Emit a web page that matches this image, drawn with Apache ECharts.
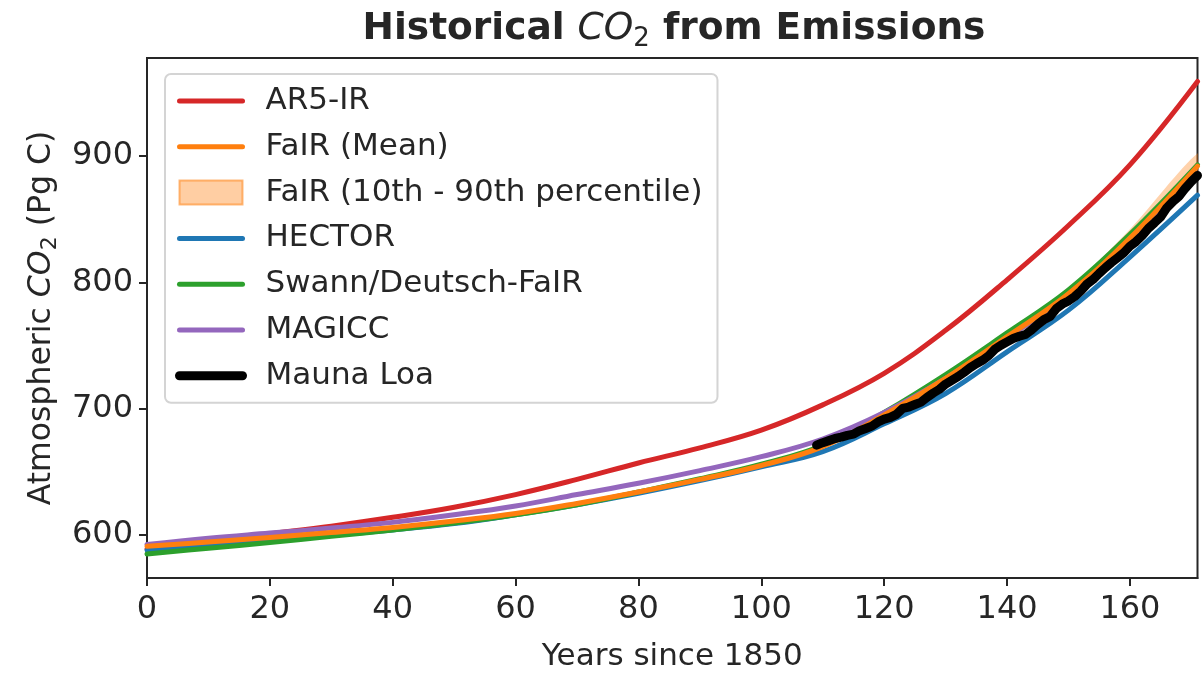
<!DOCTYPE html>
<html>
<head>
<meta charset="utf-8">
<script src="https://cdn.jsdelivr.net/npm/echarts@6/dist/echarts.min.js"></script>
<style>
html,body{margin:0;padding:0;background:#fff;}
#chart{width:1204px;height:673px;}
</style>
</head>
<body>
<div id="chart"></div>
<script>
// ---- data (Years since 1850, atmospheric CO2 in Pg C) ----
const years = [0, 10, 20, 30, 40, 50, 60, 70, 80, 90, 100, 110, 120, 130, 140, 150, 160, 171];
const ar5ir   = [589, 595, 601, 607, 614, 622, 632, 644, 657, 669, 683, 703, 728, 762, 802, 845, 893, 959];
const fairMean= [591, 594.5, 598, 602, 606, 611, 617, 625, 634, 644, 655, 670, 695, 724, 757, 791, 835, 892];
const fairLow = [590, 593.5, 597, 601, 605, 609.5, 615.5, 623.5, 632, 642, 653, 668, 692.5, 721, 753.5, 787, 828, 884];
const fairHigh= [592, 595.5, 599, 603, 607, 612.5, 618.5, 626.5, 636, 646, 657, 672, 697.5, 727, 760.5, 795, 842, 902];
const hector  = [588, 592, 596, 600, 604, 609, 616, 624, 633, 643, 654, 666, 688, 712, 745, 778, 820, 869];
const swann   = [585, 589.5, 594, 599, 604, 609.5, 616, 624, 634, 644.5, 656, 671, 697, 727, 760, 794, 838, 893];
const magicc  = [592.5, 597.5, 601.5, 605.5, 610, 616, 623, 632, 641, 651, 662, 676, 697, 724, 756, 790, 832, 886];
const maunaYears = [109,110,111,112,113,114,115,116,117,118,119,120,121,122,123,124,125,126,127,128,129,130,131,132,133,134,135,136,137,138,139,140,141,142,143,144,145,146,147,148,149,150,151,152,153,154,155,156,157,158,159,160,161,162,163,164,165,166,167,168,169,170,171];
const maunaLoa = [671.1,673.1,674.7,676.4,677.5,678.9,679.8,682.6,684.3,686.2,689.5,691.7,693.1,695.5,700.2,701.3,703.3,705.2,709.1,712.4,715.4,719.5,722.4,725.3,728.8,732.5,735.6,738.3,741.9,747.0,750.2,752.9,755.5,757.3,758.7,762.4,766.7,770.5,772.9,779.2,782.8,785.3,788.7,793.2,798.6,802.3,807.1,811.6,815.7,819.5,823.4,828.6,832.3,837.0,842.7,847.1,851.7,859.0,864.0,868.1,874.4,879.8,884.6];
const xTicks = [0, 20, 40, 60, 80, 100, 120, 140, 160];
const yTicks = [600, 700, 800, 900];

const names = ['AR5-IR','FaIR (Mean)','FaIR (10th - 90th percentile)','HECTOR','Swann/Deutsch-FaIR','MAGICC','Mauna Loa'];
const colors = {red:'#d62728', orange:'#ff7f0e', blue:'#1f77b4', green:'#2ca02c', purple:'#9467bd', black:'#000000'};

function pairs(xs, ys){ return xs.map((x,i)=>[x, ys[i]]); }
const FONT = 'DejaVu Sans';
const TXT = '#262626';
const LW = 5, BLW = 9;

function lineSeries(name, xs, ys, color, width, smooth){
  return {
    type:'line', name:name, data:pairs(xs, ys), showSymbol:false, symbol:'none',
    smooth:smooth,
    lineStyle:{color:color, width:width, cap:'round', join:'round'},
    itemStyle:{color:color}, z:2
  };
}

const chart = echarts.init(document.getElementById('chart'), null, {renderer:'canvas'});
const option = {
  animation:false,
  backgroundColor:'#ffffff',
  textStyle:{fontFamily:FONT},
  title:{
    text:'{b|Historical }{i|CO}{s|2}{b| from Emissions}',
    left:669, top:1, textAlign:'center',
    textStyle:{
      rich:{
        b:{fontFamily:FONT, fontSize:37.5, fontWeight:'bold', color:TXT},
        i:{fontFamily:FONT, fontSize:37.5, fontStyle:'italic', fontWeight:'normal', color:TXT},
        s:{fontFamily:FONT, fontSize:26, fontWeight:'normal', color:TXT, padding:[20,0,0,0]}
      }
    }
  },
  grid:{left:147, right:6.5, top:58, bottom:95, show:true, borderColor:TXT, borderWidth:2,
        backgroundColor:'transparent', outerBoundsMode:'none', containLabel:false},
  legend:{
    orient:'vertical', left:165, top:74,
    itemWidth:63, itemHeight:24, itemGap:14.8,
    padding:[11.5,15,11.5,10],
    borderColor:'#d4d4d4', borderWidth:2, borderRadius:6, backgroundColor:'#ffffff',
    textStyle:{fontFamily:FONT, fontSize:31, color:TXT, padding:[0,0,0,18]},
    itemStyle:{opacity:0},
    lineStyle:{width:LW, cap:'round'},
    data:[
      {name:names[0]}, {name:names[1]},
      {name:names[2], icon:'rect', itemStyle:{color:'rgba(255,127,14,0.38)', borderColor:'rgba(255,127,14,0.55)', borderWidth:2, opacity:1}},
      {name:names[3]}, {name:names[4]}, {name:names[5]},
      {name:names[6], lineStyle:{width:BLW, cap:'round'}}
    ],
    selectedMode:false
  },
  xAxis:{
    type:'value', min:0, max:171,
    name:'Years since 1850', nameLocation:'middle', nameGap:63.5,
    nameTextStyle:{fontFamily:FONT, fontSize:31, color:TXT},
    axisLine:{show:true, lineStyle:{color:TXT, width:2}},
    axisTick:{show:true, length:8, lineStyle:{color:TXT, width:2}, customValues:xTicks},
    axisLabel:{fontFamily:FONT, fontSize:32, color:TXT, margin:16, customValues:xTicks},
    splitLine:{show:false}
  },
  yAxis:{
    type:'value', min:565.96, max:977.6,
    name:'{n|Atmospheric }{i|CO}{s|2}{n| (Pg C)}', nameLocation:'middle', nameGap:85, nameRotate:90,
    nameTextStyle:{
      rich:{
        n:{fontFamily:FONT, fontSize:31.5, color:TXT},
        i:{fontFamily:FONT, fontSize:31.5, fontStyle:'italic', color:TXT},
        s:{fontFamily:FONT, fontSize:22, color:TXT, padding:[17,0,0,0]}
      }
    },
    axisLine:{show:true, lineStyle:{color:TXT, width:2}},
    axisTick:{show:true, length:8, lineStyle:{color:TXT, width:2}, customValues:yTicks},
    axisLabel:{fontFamily:FONT, fontSize:32, color:TXT, margin:14, customValues:yTicks},
    splitLine:{show:false}
  },
  series:[
    lineSeries(names[0], years, ar5ir, colors.red, LW, 0.4),
    lineSeries(names[3], years, hector, colors.blue, LW, 0.4),
    lineSeries(names[4], years, swann, colors.green, LW, 0.4),
    lineSeries(names[5], years, magicc, colors.purple, LW, 0.4),
    {
      type:'custom', name:names[2], coordinateSystem:'cartesian2d', clip:true, z:2,
      itemStyle:{color:'rgba(255,127,14,0.38)'},
      data:[[years[0], fairLow[0]]],
      renderItem:function(params, api){
        const pts = [];
        for (let i=0;i<years.length;i++) pts.push(api.coord([years[i], fairHigh[i]]));
        for (let i=years.length-1;i>=0;i--) pts.push(api.coord([years[i], fairLow[i]]));
        return {type:'polygon', shape:{points:pts, smooth:0.3}, style:{fill:'rgba(255,127,14,0.35)'}};
      }
    },
    lineSeries(names[1], years, fairMean, colors.orange, LW, 0.4),
    lineSeries(names[6], maunaYears, maunaLoa, colors.black, BLW, false)
  ]
};
chart.setOption(option);
</script>
</body>
</html>
